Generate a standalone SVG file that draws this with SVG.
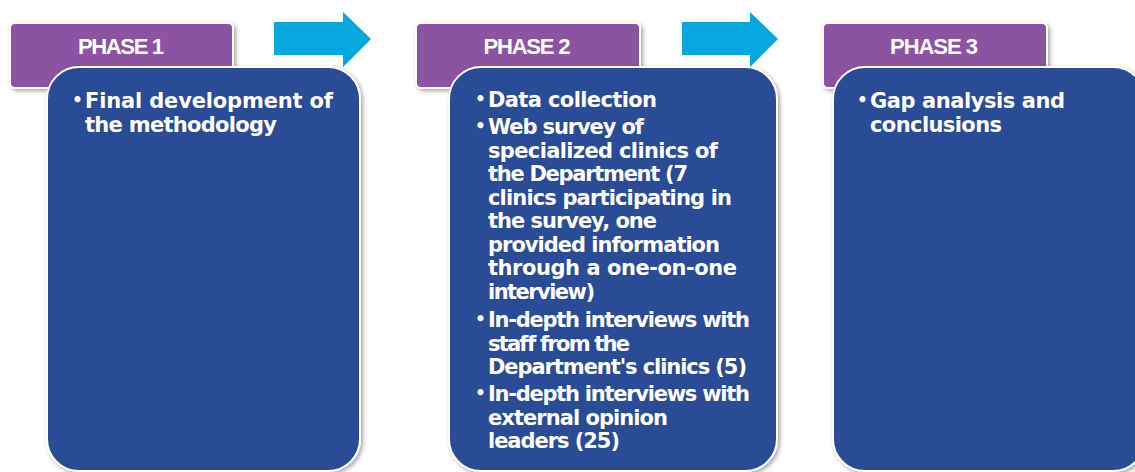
<svg xmlns="http://www.w3.org/2000/svg" width="1135" height="472" viewBox="0 0 1135 472">
  <defs>
    <filter id="shadow" x="-10%" y="-10%" width="125%" height="125%">
      <feGaussianBlur in="SourceAlpha" stdDeviation="2"/>
      <feOffset dx="2" dy="2" result="b"/>
      <feFlood flood-color="#000" flood-opacity="0.35"/>
      <feComposite in2="b" operator="in"/>
      <feMerge>
        <feMergeNode/>
        <feMergeNode in="SourceGraphic"/>
      </feMerge>
    </filter>
  </defs>
  <style>
    .tab { fill: #8B53A2; stroke: #ffffff; stroke-width: 2; filter: url(#shadow); }
    .body { fill: #2C4C96; stroke: #ffffff; stroke-width: 2; filter: url(#shadow); }
    .arrow { fill: #05A7DE; }
    .title { font-family: "Liberation Sans", "DejaVu Sans", sans-serif; font-weight: bold; font-size: 22px; fill: #ffffff; text-anchor: middle; }
    .txt { font-family: "DejaVu Sans", "Liberation Sans", sans-serif; font-weight: bold; font-size: 21px; fill: #ffffff; }
    .bul { font-family: "DejaVu Sans", "Liberation Sans", sans-serif; font-weight: bold; font-size: 17px; fill: #ffffff; }
  </style>
  <rect width="1135" height="472" fill="#ffffff"/>

  <!-- process arrows between phases -->
  <g id="connectors">
    <path class="arrow" d="M274,22 H343 V12 L371,39 L343,67 V55 H274 Z"/>
    <path class="arrow" d="M682,22 H750 V12 L778,39 L750,67 V55 H682 Z"/>
  </g>

  <g id="phase1">
    <rect class="tab" x="10" y="23" width="223" height="65" rx="5"/>
    <text class="title" x="121" y="54" textLength="86">PHASE 1</text>
    <rect class="body" x="47" y="67" width="313" height="404" rx="32"/>
    <text class="bul" x="72" y="106">•</text>
    <text class="txt" x="85" y="108" textLength="248">Final development of</text>
    <text class="txt" x="85" y="132" textLength="192">the methodology</text>
  </g>

  <g id="phase2">
    <rect class="tab" x="416" y="23" width="224" height="65" rx="5"/>
    <text class="title" x="527" y="54" textLength="87">PHASE 2</text>
    <rect class="body" x="449" y="67" width="328" height="404" rx="32"/>
    <text class="bul" x="475" y="105">•</text>
    <text class="txt" x="488" y="107" textLength="169">Data collection</text>
    <text class="bul" x="475" y="132">•</text>
    <text class="txt" x="488" y="134" textLength="156">Web survey of</text>
    <text class="txt" x="488" y="157.5" textLength="230">specialized clinics of</text>
    <text class="txt" x="488" y="181" textLength="200">the Department (7</text>
    <text class="txt" x="488" y="204.5" textLength="244">clinics participating in</text>
    <text class="txt" x="488" y="228" textLength="169">the survey, one</text>
    <text class="txt" x="488" y="251.5" textLength="232">provided information</text>
    <text class="txt" x="488" y="275" textLength="249">through a one-on-one</text>
    <text class="txt" x="488" y="298.5" textLength="107">interview)</text>
    <text class="bul" x="475" y="325">•</text>
    <text class="txt" x="488" y="327" textLength="262">In-depth interviews with</text>
    <text class="txt" x="488" y="350.5" textLength="142">staff from the</text>
    <text class="txt" x="488" y="374" textLength="259">Department's clinics (5)</text>
    <text class="bul" x="475" y="399">•</text>
    <text class="txt" x="488" y="401" textLength="262">In-depth interviews with</text>
    <text class="txt" x="488" y="424.5" textLength="180">external opinion</text>
    <text class="txt" x="488" y="448" textLength="132">leaders (25)</text>
  </g>

  <g id="phase3">
    <rect class="tab" x="823" y="23" width="224" height="65" rx="5"/>
    <text class="title" x="934" y="54" textLength="88">PHASE 3</text>
    <rect class="body" x="833" y="67" width="312" height="404" rx="32"/>
    <text class="bul" x="857" y="106">•</text>
    <text class="txt" x="870" y="108" textLength="195">Gap analysis and</text>
    <text class="txt" x="870" y="132" textLength="132">conclusions</text>
  </g>
</svg>
